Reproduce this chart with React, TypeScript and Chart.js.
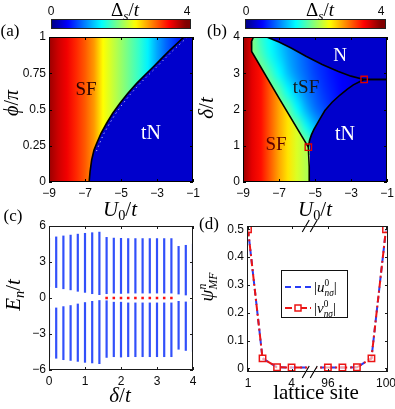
import React, { useEffect, useRef } from 'react';
import { Chart, registerables } from 'chart.js';

Chart.register(...registerables);
if (typeof document !== 'undefined') document.body.style.margin = '0';

const FIG_W = 395;
const FIG_H = 409;
const SERIF = '"Liberation Serif","Times New Roman",serif';
const SANS = '"Liberation Sans",Arial,sans-serif';
const TICK_COLOR = '#0a0a0a';
const FRAME = '#1a1a1a';
const BAR_BLUE = 'rgb(50,80,250)';
const LINE_BLUE = 'rgb(40,60,245)';
const LINE_RED = 'rgb(235,20,20)';
const CBAR_MAX = 4.15;
const TN_GAP = 0.3;

// ---------- (a) phi/pi vs U0/t ----------
const aU0 = [-9, -8.5, -8, -7.5, -7, -6.5, -6, -5.5, -5, -4.5, -4, -3.5, -3, -2.5, -2, -1.5, -1];
const aGap = [3.9, 3.7, 3.55, 3.35, 3.15, 2.9, 2.5, 2.3, 2.1, 1.9, 1.7, 1.45, 1.15, 0.9, 0.7, 0.5, 0.4];
const aBoundU0 = [-6.77, -6.72, -6.63, -6.5, -6.35, -6.11, -5.8, -5.46, -5.06, -4.63, -4.13, -3.67, -3.2, -2.74, -2.28, -1.5, -1];
const aBoundPhi = [0, 0.07, 0.152, 0.22, 0.267, 0.336, 0.405, 0.474, 0.543, 0.61, 0.68, 0.738, 0.795, 0.853, 0.91, 1.0, 1.0];

// ---------- (b) delta/t vs U0/t ----------
const bU0 = [-9, -8.5, -8, -7.5, -7, -6.5, -6, -5.5, -5];
const bGap = [3.9, 3.6, 3.45, 3.15, 2.85, 2.6, 2.35, 2.2, 2.1];
const tsfU0 = [-8.5, -8, -7.5, -7, -6.5, -6, -5.5, -5, -4.5, -4, -3.5, -3, -2.5, -2];
const tsfDelta = [4, 3.5, 3, 2.5, 2, 1.5, 1];
const tsfGap = [
  [2.0, 1.7, 1.5, 1.3, 1.1, 0.95, 0.8, 0.7, 0.6, 0.5, 0.45, 0.4, 0.35, 0.3],
  [2.0, 1.8, 1.55, 1.35, 1.15, 1.0, 0.85, 0.72, 0.62, 0.52, 0.45, 0.4, 0.35, 0.3],
  [2.0, 2.0, 1.8, 1.5, 1.25, 1.05, 0.9, 0.75, 0.65, 0.55, 0.48, 0.42, 0.36, 0.3],
  [2.0, 2.0, 2.0, 1.85, 1.5, 1.25, 1.0, 0.85, 0.7, 0.6, 0.5, 0.45, 0.4, 0.35],
  [2.0, 2.0, 2.0, 2.0, 1.9, 1.5, 1.2, 0.95, 0.8, 0.65, 0.55, 0.5, 0.45, 0.4],
  [2.0, 2.0, 2.0, 2.0, 2.0, 1.95, 1.55, 1.25, 1.0, 0.8, 0.6, 0.5, 0.45, 0.4],
  [2.0, 2.0, 2.0, 2.0, 2.0, 2.0, 2.0, 1.6, 1.2, 0.9, 0.7, 0.55, 0.45, 0.4],
];
const sfLineU0 = [-8.42, -8.53, -8.52, -7.04, -5.37];
const sfLineDelta = [4.0, 3.87, 3.6, 2.35, 0.96];
const nLineU0 = [-7.68, -7.0, -6.3, -5.5, -4.6, -3.7, -3.0, -2.27, -1.0];
const nLineDelta = [4.0, 3.86, 3.69, 3.47, 3.24, 3.05, 2.92, 2.83, 2.83];
const tnLineU0 = [-5.28, -5.32, -5.37, -5.3, -5.2, -5.06, -4.75, -4.45, -4.05, -3.61, -3.2, -2.87, -2.27, -1.0];
const tnLineDelta = [0, 0.42, 0.96, 1.15, 1.3, 1.45, 1.72, 1.97, 2.2, 2.4, 2.56, 2.68, 2.83, 2.83];
const critU0 = [-5.37, -2.27];
const critDelta = [0.96, 2.83];

// ---------- (c) E_n/t vs delta/t ----------
const cDelta = [0, 0.2, 0.4, 0.6, 0.8, 1.0, 1.2, 1.4, 1.6, 1.8, 2.0, 2.2, 2.4, 2.6, 2.8, 3.0, 3.2, 3.4, 3.6, 3.8, 4.0];
const posLo = [0.92, 0.84, 0.74, 0.65, 0.53, 0.44, 0.33, 0.25, 0.33, 0.38, 0.35, 0.38, 0.38, 0.38, 0.38, 0.38, 0.38, 0.38, 0.3, 0.22, 0.25];
const posHi = [5.0, 5.12, 5.2, 5.27, 5.35, 5.42, 5.47, 5.52, 5.08, 5.02, 5.0, 4.98, 4.98, 4.98, 4.98, 4.98, 4.98, 4.98, 4.33, 4.42, 4.53];
const negHi = [-0.88, -0.8, -0.69, -0.6, -0.47, -0.35, -0.25, -0.18, -0.2, -0.32, -0.32, -0.38, -0.38, -0.38, -0.38, -0.38, -0.38, -0.38, -0.25, -0.3, -0.3];
const negLo = [-4.95, -5.05, -5.17, -5.23, -5.31, -5.39, -5.44, -5.5, -4.98, -4.92, -4.95, -4.92, -4.92, -4.92, -4.92, -4.92, -4.92, -4.92, -4.3, -4.4, -4.48];
const zeroModeDelta = [1.6, 1.8, 2.0, 2.2, 2.4, 2.6, 2.8, 3.0, 3.2, 3.4];

// ---------- (d) psi vs lattice site ----------
const sites = [1, 2, 3, 4, 96, 97, 98, 99, 100];
const uAbs = [0.5, 0.036, 0.004, 0.003, 0.003, 0.003, 0.004, 0.036, 0.5];
const vAbs = [0.5, 0.036, 0.004, 0.003, 0.003, 0.003, 0.004, 0.036, 0.5];
const siteTicks = [1, 4, 96, 100];
const siteAxisPos = (s: number) => (s <= 4 ? s : s - 89.5);

// ---------- helpers ----------
function jetRGB(v: number): [number, number, number] {
  const x = Math.max(0, Math.min(1, v / 4));
  const c = (t: number) => Math.round(255 * Math.max(0, Math.min(1, t)));
  return [c(1.5 - Math.abs(4 * x - 3)), c(1.5 - Math.abs(4 * x - 2)), c(1.5 - Math.abs(4 * x - 1))];
}
function jet(v: number) {
  const [r, g, b] = jetRGB(v);
  return `rgb(${r},${g},${b})`;
}
function fmtTick(v: number) {
  return String(Number(Number(v).toFixed(3))).replace('-', '\u2212');
}

type Seg = { t: string; it?: boolean; sc?: number; dy?: number; stay?: boolean };
function drawRich(ctx: CanvasRenderingContext2D, segs: Seg[], x: number, y: number, size: number,
  opts: { align?: 'left' | 'center' | 'right'; rot?: number; color?: string; family?: string } = {}) {
  const fam = opts.family || SERIF;
  const fontOf = (s: Seg) => `${s.it ? 'italic ' : ''}${(size * (s.sc || 1)).toFixed(1)}px ${fam}`;
  ctx.save();
  const adv: number[] = [];
  let w = 0;
  segs.forEach((s) => {
    ctx.font = fontOf(s);
    const m = ctx.measureText(s.t).width;
    adv.push(s.stay ? 0 : m);
    w += s.stay ? 0 : m;
  });
  ctx.translate(x, y);
  if (opts.rot) ctx.rotate(opts.rot);
  ctx.fillStyle = opts.color || '#000';
  ctx.textBaseline = 'alphabetic';
  ctx.textAlign = 'left';
  const align = opts.align || 'center';
  let cx = align === 'left' ? 0 : align === 'right' ? -w : -w / 2;
  segs.forEach((s, i) => {
    ctx.font = fontOf(s);
    ctx.fillText(s.t, cx, size * 0.33 + (s.dy || 0));
    cx += adv[i];
  });
  ctx.restore();
}

function axis(pos: 'x' | 'y', min: number, max: number, step: number | undefined, size: number, extra: any = {}) {
  const o: any = {
    type: 'linear',
    position: pos === 'x' ? 'bottom' : 'left',
    min, max, offset: false,
    grid: { display: false, drawTicks: false },
    border: { display: false },
    ticks: {
      stepSize: step, includeBounds: false, autoSkip: false, maxRotation: 0, minRotation: 0,
      padding: pos === 'x' ? 4 : 3, color: TICK_COLOR,
      font: { family: SANS, size: 12 },
      callback: (v: number) => fmtTick(v),
      ...(extra.ticks || {}),
    },
    afterFit: (s: any) => {
      if (pos === 'x') s.height = size; else s.width = size;
      s.paddingLeft = 0; s.paddingRight = 0; s.paddingTop = 0; s.paddingBottom = 0;
    },
  };
  if (extra.afterBuildTicks) o.afterBuildTicks = extra.afterBuildTicks;
  return o;
}

function baseOptions(L: number, T: number, R: number, B: number, yw: number, xh: number) {
  return {
    responsive: false,
    animation: false,
    devicePixelRatio: 1,
    events: [],
    layout: { autoPadding: false, padding: { left: L - yw, top: T, right: FIG_W - R, bottom: FIG_H - B - xh } },
    plugins: { legend: { display: false }, tooltip: { enabled: false }, title: { display: false } },
  };
}

function framePlugin(color: string) {
  return {
    id: 'frameTicks',
    afterDraw(chart: any) {
      const { ctx, chartArea: a, scales } = chart;
      const xs = scales.x, ys = scales.y;
      const len = 3;
      ctx.save();
      ctx.strokeStyle = color;
      ctx.lineWidth = 1;
      ctx.beginPath();
      xs.ticks.forEach((t: any) => {
        const p = Math.round(xs.getPixelForValue(t.value)) + 0.5;
        ctx.moveTo(p, a.bottom); ctx.lineTo(p, a.bottom - len);
        ctx.moveTo(p, a.top); ctx.lineTo(p, a.top + len);
      });
      ys.ticks.forEach((t: any) => {
        const p = Math.round(ys.getPixelForValue(t.value)) + 0.5;
        ctx.moveTo(a.left, p); ctx.lineTo(a.left + len, p);
        ctx.moveTo(a.right, p); ctx.lineTo(a.right - len, p);
      });
      ctx.stroke();
      ctx.strokeRect(Math.round(a.left) + 0.5, Math.round(a.top) + 0.5, Math.round(a.right - a.left) - 1, Math.round(a.bottom - a.top) - 1);
      ctx.restore();
    },
  };
}

function drawColorbar(ctx: CanvasRenderingContext2D, left: number, right: number, top: number, bottom: number, labelX: number, zeroX: number, fourX: number) {
  const g = ctx.createLinearGradient(left, 0, right, 0);
  for (let i = 0; i <= 64; i++) g.addColorStop(i / 64, jet((CBAR_MAX * i) / 64));
  ctx.save();
  ctx.fillStyle = g;
  ctx.fillRect(left, top, right - left, bottom - top);
  ctx.strokeStyle = '#222';
  ctx.lineWidth = 1;
  ctx.strokeRect(left + 0.5, top + 0.5, right - left - 1, bottom - top - 1);
  ctx.fillStyle = '#0a0a0a';
  ctx.font = `12px ${SANS}`;
  ctx.textAlign = 'center';
  ctx.textBaseline = 'middle';
  ctx.fillText('0', zeroX, 12);
  ctx.fillText('4', fourX, 12);
  ctx.restore();
  drawRich(ctx, [{ t: '\u0394' }, { t: 's', it: true, sc: 0.7, dy: 4 }, { t: '/' }, { t: 't', it: true }], labelX, 10, 19);
}

function plainText(ctx: CanvasRenderingContext2D, t: string, x: number, y: number, size: number, color: string, italic = false) {
  ctx.save();
  ctx.font = `${italic ? 'italic ' : ''}${size}px ${SERIF}`;
  ctx.fillStyle = color;
  ctx.textAlign = 'center';
  ctx.textBaseline = 'middle';
  ctx.fillText(t, x, y);
  ctx.restore();
}

const U0_LABEL: Seg[] = [{ t: 'U', it: true }, { t: '0', sc: 0.68, dy: 4 }, { t: '/' }, { t: 't', it: true }];
const DELTA_LABEL: Seg[] = [{ t: '\u03b4', it: true }, { t: '/' }, { t: 't', it: true }];

// ---------- chart builders ----------
function makeA(canvas: HTMLCanvasElement) {
  const heat = {
    id: 'heatA',
    beforeDatasetsDraw(chart: any) {
      const { ctx, chartArea: a, scales: { x } } = chart;
      const x0 = x.getPixelForValue(aU0[0]);
      const x1 = x.getPixelForValue(aU0[aU0.length - 1]);
      const g = ctx.createLinearGradient(x0, 0, x1, 0);
      aU0.forEach((u, i) => g.addColorStop((x.getPixelForValue(u) - x0) / (x1 - x0), jet(aGap[i])));
      ctx.save();
      ctx.fillStyle = g;
      ctx.fillRect(a.left, a.top, a.right - a.left, a.bottom - a.top);
      ctx.restore();
    },
    afterDatasetsDraw(chart: any) {
      const { ctx, chartArea: a } = chart;
      const pts = chart.getDatasetMeta(0).data;
      ctx.save();
      ctx.beginPath();
      ctx.rect(a.left, a.top, a.right - a.left, a.bottom - a.top);
      ctx.clip();
      ctx.strokeStyle = 'rgba(255,255,255,0.75)';
      ctx.lineWidth = 1;
      ctx.setLineDash([1.2, 3.5]);
      ctx.beginPath();
      for (let i = 3; i < pts.length - 1; i++) {
        const p = pts[i];
        if (i === 3) ctx.moveTo(p.x + 2.5, p.y + 1); else ctx.lineTo(p.x + 2.5, p.y + 1);
      }
      ctx.stroke();
      ctx.restore();
    },
    afterDraw(chart: any) {
      const { ctx } = chart;
      drawColorbar(ctx, 51, 191, 19, 29, 125, 51, 187);
      plainText(ctx, '(a)', 10, 32, 17, '#000');
      plainText(ctx, 'SF', 86, 90, 19, '#2a0000');
      plainText(ctx, 'tN', 151, 134, 20, '#fff');
      drawRich(ctx, [{ t: '\u03d5', it: true }, { t: '/' }, { t: '\u03c0', it: true }], 11, 103, 20, { rot: -Math.PI / 2 });
      drawRich(ctx, U0_LABEL, 120, 209, 21);
    },
  };
  return new Chart(canvas, {
    type: 'line',
    data: {
      datasets: [
        {
          data: aBoundU0.map((u, i) => ({ x: u, y: aBoundPhi[i] })),
          fill: 'start',
          backgroundColor: jet(TN_GAP),
          borderColor: '#000',
          borderWidth: 1.6,
          pointRadius: 0,
          tension: 0,
        },
      ],
    },
    options: {
      ...baseOptions(49, 37, 193, 182, 40, 20),
      scales: { x: axis('x', -9, -1, 2, 20), y: axis('y', 0, 1, 0.25, 40) },
    } as any,
    plugins: [heat, framePlugin('#000')],
  });
}

function makeB(canvas: HTMLCanvasElement) {
  const heat = {
    id: 'heatB',
    beforeDatasetsDraw(chart: any) {
      const { ctx, chartArea: a, scales: { x, y } } = chart;
      ctx.save();
      ctx.beginPath();
      ctx.rect(a.left, a.top, a.right - a.left, a.bottom - a.top);
      ctx.clip();
      // tSF gap grid, smoothed
      const off = document.createElement('canvas');
      off.width = tsfU0.length;
      off.height = tsfDelta.length;
      const octx = off.getContext('2d')!;
      const img = octx.createImageData(off.width, off.height);
      tsfGap.forEach((row, j) => row.forEach((v, i) => {
        const [r, g, b] = jetRGB(v);
        const k = (j * off.width + i) * 4;
        img.data[k] = r; img.data[k + 1] = g; img.data[k + 2] = b; img.data[k + 3] = 255;
      }));
      octx.putImageData(img, 0, 0);
      const du = (tsfU0[1] - tsfU0[0]) / 2;
      const dd = (tsfDelta[0] - tsfDelta[1]) / 2;
      const gx0 = x.getPixelForValue(tsfU0[0] - du);
      const gx1 = x.getPixelForValue(tsfU0[tsfU0.length - 1] + du);
      const gy0 = y.getPixelForValue(tsfDelta[0] + dd);
      const gy1 = y.getPixelForValue(tsfDelta[tsfDelta.length - 1] - dd);
      ctx.imageSmoothingEnabled = true;
      (ctx as any).imageSmoothingQuality = 'high';
      ctx.drawImage(off, gx0, gy0, gx1 - gx0, gy1 - gy0);
      // SF stripes clipped to SF region
      ctx.beginPath();
      ctx.moveTo(x.getPixelForValue(-9), y.getPixelForValue(0));
      ctx.lineTo(x.getPixelForValue(-9), y.getPixelForValue(4));
      sfLineU0.forEach((u, i) => ctx.lineTo(x.getPixelForValue(u), y.getPixelForValue(sfLineDelta[i])));
      ctx.lineTo(x.getPixelForValue(tnLineU0[1]), y.getPixelForValue(tnLineDelta[1]));
      ctx.lineTo(x.getPixelForValue(tnLineU0[0]), y.getPixelForValue(tnLineDelta[0]));
      ctx.closePath();
      ctx.clip();
      const x0 = x.getPixelForValue(bU0[0]);
      const x1 = x.getPixelForValue(bU0[bU0.length - 1]);
      const g = ctx.createLinearGradient(x0, 0, x1, 0);
      bU0.forEach((u, i) => g.addColorStop((x.getPixelForValue(u) - x0) / (x1 - x0), jet(bGap[i])));
      ctx.fillStyle = g;
      ctx.fillRect(a.left, a.top, a.right - a.left, a.bottom - a.top);
      ctx.restore();
    },
    afterDraw(chart: any) {
      const { ctx } = chart;
      drawColorbar(ctx, 245, 386, 19, 29, 320, 246, 381);
      plainText(ctx, '(b)', 217, 32, 17, '#000');
      plainText(ctx, 'N', 340, 56, 19, '#fff');
      plainText(ctx, 'tSF', 306, 88, 19, '#151515');
      plainText(ctx, 'SF', 276, 145, 19, '#5a0000');
      plainText(ctx, 'tN', 345, 135, 20, '#fff');
      drawRich(ctx, DELTA_LABEL, 206, 108, 21, { rot: -Math.PI / 2 });
      drawRich(ctx, U0_LABEL, 315, 209, 21);
    },
  };
  const lineDs = (xs: number[], ys: number[], extra: any = {}) => ({
    data: xs.map((u, i) => ({ x: u, y: ys[i] })),
    borderColor: '#000',
    borderWidth: 1.6,
    pointRadius: 0,
    tension: 0,
    fill: false,
    ...extra,
  });
  return new Chart(canvas, {
    type: 'line',
    data: {
      datasets: [
        {
          data: critU0.map((u, i) => ({ x: u, y: critDelta[i] })),
          showLine: false,
          pointStyle: 'rect',
          pointRadius: 4.5,
          pointBorderColor: '#e00000',
          pointBackgroundColor: 'rgba(0,0,0,0)',
          pointBorderWidth: 1.3,
        },
        lineDs(sfLineU0, sfLineDelta),
        lineDs(nLineU0, nLineDelta, { fill: 'end', backgroundColor: jet(TN_GAP) }),
        lineDs(tnLineU0, tnLineDelta, { fill: 'start', backgroundColor: jet(TN_GAP) }),
      ],
    },
    options: {
      ...baseOptions(243, 37, 387, 182, 40, 20),
      scales: { x: axis('x', -9, -1, 2, 20), y: axis('y', 0, 4, 1, 40) },
    } as any,
    plugins: [heat, framePlugin('#000')],
  });
}

function makeC(canvas: HTMLCanvasElement) {
  const deco = {
    id: 'decoC',
    afterDraw(chart: any) {
      const { ctx } = chart;
      plainText(ctx, '(c)', 13, 217, 17, '#000');
      drawRich(ctx, [{ t: 'E', it: true }, { t: 'n', it: true, sc: 0.68, dy: 4 }, { t: '/' }, { t: 't', it: true }], 13, 295, 21, { rot: -Math.PI / 2 });
      drawRich(ctx, DELTA_LABEL, 120, 395, 21);
    },
  };
  const band = (lo: number[], hi: number[]) => ({
    data: cDelta.map((d, i) => ({ x: d, y: [lo[i], hi[i]] })),
    backgroundColor: BAR_BLUE,
    barThickness: 2.2,
    maxBarThickness: 2.2,
    inflateAmount: 0,
    grouped: false,
    borderWidth: 0,
  });
  return new Chart(canvas, {
    type: 'bar',
    data: {
      datasets: [
        {
          type: 'scatter',
          data: zeroModeDelta.map((d) => ({ x: d, y: 0 })),
          pointStyle: 'rect',
          pointRadius: 1.8,
          pointBackgroundColor: '#ff1010',
          pointBorderWidth: 0,
        } as any,
        band(posLo, posHi),
        band(negLo, negHi),
      ],
    },
    options: {
      ...baseOptions(49, 226, 193, 370, 40, 20),
      scales: { x: axis('x', 0, 4, 1, 20), y: axis('y', -6, 6, 3, 40) },
    } as any,
    plugins: [deco, framePlugin(FRAME)],
  });
}

function makeD(canvas: HTMLCanvasElement) {
  const deco = {
    id: 'decoD',
    afterDraw(chart: any) {
      const { ctx, chartArea: a, scales: { x } } = chart;
      // axis breaks
      const cx = x.getPixelForValue((siteAxisPos(4) + siteAxisPos(96)) / 2);
      [a.top, a.bottom].forEach((yy: number) => {
        ctx.save();
        ctx.fillStyle = '#fff';
        ctx.beginPath();
        ctx.moveTo(cx - 7.5, yy + 6); ctx.lineTo(cx - 0.5, yy - 6); ctx.lineTo(cx + 7.5, yy - 6); ctx.lineTo(cx + 0.5, yy + 6);
        ctx.closePath();
        ctx.fill();
        ctx.strokeStyle = '#000';
        ctx.lineWidth = 1.1;
        ctx.beginPath();
        ctx.moveTo(cx - 7.5, yy + 6); ctx.lineTo(cx - 0.5, yy - 6);
        ctx.moveTo(cx + 0.5, yy + 6); ctx.lineTo(cx + 7.5, yy - 6);
        ctx.stroke();
        ctx.restore();
      });
      // legend
      ctx.save();
      ctx.fillStyle = '#fff';
      ctx.fillRect(281, 270, 66, 47);
      ctx.strokeStyle = '#111';
      ctx.lineWidth = 1;
      ctx.strokeRect(281.5, 270.5, 66, 47);
      ctx.lineWidth = 2;
      ctx.strokeStyle = LINE_BLUE;
      ctx.setLineDash([6, 4]);
      ctx.beginPath(); ctx.moveTo(285, 287); ctx.lineTo(311, 287); ctx.stroke();
      ctx.strokeStyle = LINE_RED;
      ctx.setLineDash([7, 3, 2, 3]);
      ctx.beginPath(); ctx.moveTo(285, 308); ctx.lineTo(311, 308); ctx.stroke();
      ctx.setLineDash([]);
      ctx.lineWidth = 1.5;
      ctx.fillStyle = '#fff';
      ctx.fillRect(295, 305, 6, 6);
      ctx.strokeRect(295, 305, 6, 6);
      ctx.restore();
      const legendSeg = (c: string): Seg[] => [{ t: '|' }, { t: c, it: true }, { t: '0', sc: 0.62, dy: -6, stay: true }, { t: 'n\u03c3', it: true, sc: 0.62, dy: 4 }, { t: '|' }];
      drawRich(ctx, legendSeg('u'), 314, 287, 15, { align: 'left' });
      drawRich(ctx, legendSeg('v'), 314, 308, 15, { align: 'left' });
      plainText(ctx, '(d)', 209, 225, 17, '#000');
      drawRich(ctx, [{ t: '\u03c8', it: true }, { t: 'n', it: true, sc: 0.62, dy: -7, stay: true }, { t: 'MF', it: true, sc: 0.62, dy: 4 }], 207, 287, 19, { rot: -Math.PI / 2 });
      plainText(ctx, 'lattice site', 316, 393, 21, '#000');
    },
  };
  return new Chart(canvas, {
    type: 'line',
    data: {
      datasets: [
        {
          data: sites.map((s, i) => ({ x: siteAxisPos(s), y: vAbs[i] })),
          borderColor: LINE_RED,
          borderWidth: 2,
          borderDash: [7, 3, 2, 3],
          pointStyle: 'rect',
          pointRadius: 4.5,
          pointBorderColor: LINE_RED,
          pointBackgroundColor: 'rgba(255,255,255,0.6)',
          pointBorderWidth: 1.5,
          tension: 0,
          fill: false,
        },
        {
          data: sites.map((s, i) => ({ x: siteAxisPos(s), y: uAbs[i] })),
          borderColor: LINE_BLUE,
          borderWidth: 2,
          borderDash: [6, 4],
          pointRadius: 0,
          tension: 0,
          fill: false,
        },
      ],
    },
    options: {
      ...baseOptions(247, 226, 388, 372, 40, 20),
      scales: {
        x: axis('x', 0.93, 10.64, undefined, 20, {
          afterBuildTicks: (s: any) => { s.ticks = siteTicks.map((t) => ({ value: siteAxisPos(t) })); },
          ticks: { callback: (v: number) => { const k = siteTicks.findIndex((t) => siteAxisPos(t) === v); return k >= 0 ? String(siteTicks[k]) : ''; } },
        }),
        y: axis('y', -0.013, 0.512, 0.1, 40),
      },
    } as any,
    plugins: [deco, framePlugin(FRAME)],
  });
}

function Panel({ make }: { make: (c: HTMLCanvasElement) => Chart }) {
  const ref = useRef<HTMLCanvasElement>(null);
  useEffect(() => {
    const ch = make(ref.current!);
    return () => ch.destroy();
  }, [make]);
  return (
    <canvas
      ref={ref}
      width={FIG_W}
      height={FIG_H}
      style={{ position: 'absolute', left: 0, top: 0, width: FIG_W, height: FIG_H }}
    />
  );
}

export default function App() {
  return (
    <div style={{ position: 'relative', width: FIG_W, height: FIG_H, background: '#fff', overflow: 'hidden' }}>
      <Panel make={makeA} />
      <Panel make={makeB} />
      <Panel make={makeC} />
      <Panel make={makeD} />
    </div>
  );
}
